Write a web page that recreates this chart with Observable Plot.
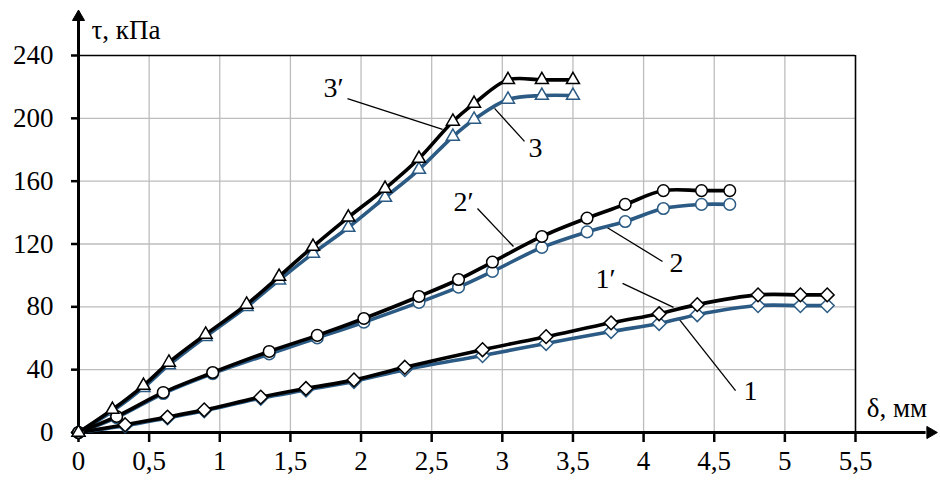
<!DOCTYPE html>
<html>
<head>
<meta charset="utf-8">
<script src="https://cdn.jsdelivr.net/npm/d3@7"></script>
<script src="https://cdn.jsdelivr.net/npm/@observablehq/plot@0.6"></script>
<style>
  html, body { margin: 0; padding: 0; background: white; }
</style>
</head>
<body>
<div id="chart"></div>
<script>
// Series data (δ, мм → τ, кПа)
const x1 = [0, 0.33, 0.63, 0.89, 1.29, 1.61, 1.95, 2.31, 2.86, 3.31, 3.77, 4.11, 4.38, 4.81, 5.11, 5.30];
const y1prime = [0, 4.9, 9.8, 14.4, 22.5, 28, 33.5, 41.5, 52.7, 61, 69.8, 75.6, 81.4, 87.6, 87.6, 87.6];
const y1 = [0, 4.3, 9.3, 13.8, 21.8, 27, 32.5, 40, 49, 56.7, 64.3, 69.4, 75, 80.8, 80.8, 80.8];

const x2 = [0, 0.27, 0.60, 0.95, 1.35, 1.69, 2.02, 2.41, 2.69, 2.93, 3.28, 3.60, 3.87, 4.14, 4.41, 4.61];
const y2prime = [0, 10.2, 25.5, 38.2, 51.6, 61.8, 72.6, 86.6, 97.4, 108.5, 124.8, 136.5, 145.2, 154, 154, 154];
const y2 = [0, 9.5, 24.8, 37.5, 50, 60.2, 70.2, 82.8, 92.5, 102.5, 117.8, 127.7, 134.3, 142.6, 145.2, 145.2];

const x3 = [0, 0.24, 0.46, 0.64, 0.90, 1.19, 1.42, 1.66, 1.91, 2.17, 2.41, 2.65, 2.80, 3.04, 3.28, 3.50];
const y3prime = [0, 14.6, 29.9, 44.6, 62.4, 81.5, 99.3, 118.4, 137, 155.3, 174.4, 198, 209.4, 224.5, 224.5, 224.5];
const y3 = [0, 13.5, 28.5, 43, 61, 80, 97, 114, 130.5, 149.6, 167.4, 188.4, 199.3, 212, 214.5, 214.5];

// Ticks
const xTicks = [0, 0.5, 1, 1.5, 2, 2.5, 3, 3.5, 4, 4.5, 5, 5.5];
const yTicks = [0, 40, 80, 120, 160, 200, 240];

// Curve annotation labels and leader lines (data coordinates)
const labelText = ["3′", "3", "2′", "2", "1′", "1"];
const labelX = [1.805, 3.235, 2.725, 4.233, 3.73, 4.757];
const labelY = [219, 180.8, 146.4, 107.6, 98, 26.7];
const leaderX1 = [1.904, 2.945, 2.824, 3.73, 3.851, 4.247];
const leaderY1 = [212.6, 206.3, 142.6, 131.1, 94.9, 72.6];
const leaderX2 = [2.577, 3.157, 3.079, 4.134, 4.212, 4.651];
const leaderY2 = [192.9, 185.3, 118.4, 108.9, 79.6, 26.7];

const BLUE = "#2b5b84";
const fmt = d => String(d).replace(".", ",");

const rows = (xs, ys) => xs.map((x, i) => ({x, y: ys[i]}));
const labels = labelText.map((t, i) => ({t, x: labelX[i], y: labelY[i]}));
const leaders = leaderX1.map((_, i) => ({x1: leaderX1[i], y1: leaderY1[i], x2: leaderX2[i], y2: leaderY2[i]}));

function series(xs, ys, color, symbol) {
  const d = rows(xs, ys);
  return [
    Plot.line(d, {x: "x", y: "y", stroke: color, strokeWidth: 3.6, curve: "catmull-rom"}),
    Plot.dot(d, {x: "x", y: "y", symbol, r: symbol === "circle" ? 5.8 : 6.2, fill: "white", stroke: color, strokeWidth: 1.5})
  ];
}

const chart = Plot.plot({
  width: 940,
  height: 482,
  marginLeft: 78,
  marginRight: 85,
  marginTop: 55,
  marginBottom: 50,
  x: {domain: [0, 5.5]},
  y: {domain: [0, 240]},
  style: {fontFamily: "'Liberation Serif', 'Times New Roman', serif", fontSize: "27px", background: "white", color: "black", overflow: "visible"},
  marks: [
    Plot.gridX({ticks: xTicks.filter(d => d > 0 && d < 5.5), stroke: "#bdbdbd", strokeOpacity: 1, strokeWidth: 1.3}),
    Plot.gridY({ticks: yTicks.filter(d => d > 0 && d < 240), stroke: "#bdbdbd", strokeOpacity: 1, strokeWidth: 1.3}),
    Plot.ruleY([240], {stroke: "black", strokeWidth: 1.6}),
    Plot.ruleX([5.5], {stroke: "black", strokeWidth: 1.6}),
    Plot.axisX({ticks: xTicks, tickFormat: fmt, tickSize: 10, tickPadding: 8, fontSize: 27, strokeWidth: 2.5}),
    Plot.axisY({ticks: yTicks, tickFormat: fmt, tickSize: 7, tickPadding: 18, fontSize: 27, strokeWidth: 2.5}),
    // axes with arrows
    Plot.ruleX([0], {y1: 0, y2: 262, stroke: "black", strokeWidth: 3}),
    Plot.ruleY([0], {x1: 0, x2: 6.0, stroke: "black", strokeWidth: 3}),
    Plot.dot([{x: 0, y: 264.5}], {x: "x", y: "y", symbol: "triangle", r: 4.5, fill: "black", stroke: "black", strokeWidth: 1}),
    Plot.dot([{x: 6.03, y: 0}], {x: "x", y: "y", symbol: "triangle", r: 4.5, rotate: 90, fill: "black", stroke: "black", strokeWidth: 1}),
    // axis titles
    Plot.text([{x: 0.092, y: 256, t: "τ, кПа"}], {x: "x", y: "y", text: "t", textAnchor: "start", fontSize: 27}),
    Plot.text([{x: 5.58, y: 15.5, t: "δ, мм"}], {x: "x", y: "y", text: "t", textAnchor: "start", fontSize: 27}),
    // leaders and labels
    Plot.link(leaders, {x1: "x1", y1: "y1", x2: "x2", y2: "y2", stroke: "black", strokeWidth: 1.3}),
    Plot.text(labels, {x: "x", y: "y", text: "t", fontSize: 28}),
    // series
    ...series(x1, y1, BLUE, "diamond2"),
    ...series(x2, y2, BLUE, "circle"),
    ...series(x3, y3, BLUE, "triangle2"),
    ...series(x1, y1prime, "black", "diamond2"),
    ...series(x2, y2prime, "black", "circle"),
    ...series(x3, y3prime, "black", "triangle2")
  ]
});
document.getElementById("chart").appendChild(chart);
</script>
</body>
</html>
